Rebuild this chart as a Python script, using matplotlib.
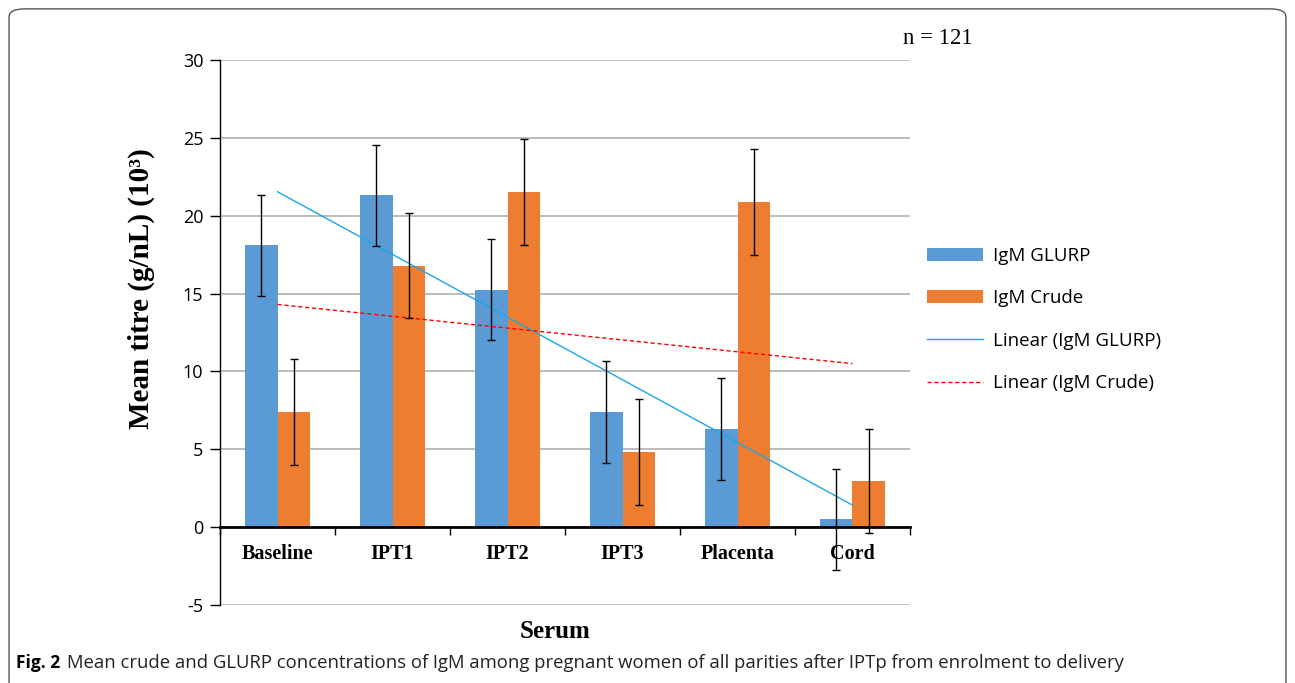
import numpy as np
import matplotlib
matplotlib.use('Agg')
import matplotlib.pyplot as plt
from matplotlib.patches import FancyBboxPatch

plt.rcParams['axes.unicode_minus'] = False

# 数据
categories = ['Baseline', 'IPT1', 'IPT2', 'IPT3', 'Placenta', 'Cord']
glurp = [18.1, 21.3, 15.25, 7.4, 6.3, 0.5]
crude = [7.4, 16.8, 21.5, 4.85, 20.9, 2.95]
glurp_err = [3.25, 3.25, 3.25, 3.25, 3.25, 3.25]
crude_err = [3.4, 3.4, 3.4, 3.4, 3.4, 3.35]

x = np.arange(len(categories))
w = 0.285

fig = plt.figure(figsize=(12.95, 6.83), dpi=100)
ax = fig.add_axes([0.1699, 0.1142, 0.7027 - 0.1699, 0.9122 - 0.1142])

# 外框
border = FancyBboxPatch((0.007, -0.05), 0.986, 1.037, boxstyle='round,pad=0,rounding_size=0.012',
                        transform=fig.transFigure, fill=False, edgecolor='#555555', linewidth=1.0)
fig.patches.append(border)

b1 = ax.bar(x - w / 2, glurp, w, color='#5B9BD5', label='IgM GLURP', zorder=2)
b2 = ax.bar(x + w / 2, crude, w, color='#ED7D31', label='IgM Crude', zorder=2)
ax.errorbar(x - w / 2, glurp, yerr=glurp_err, fmt='none', ecolor='black', elinewidth=1.0, capsize=2.7, capthick=1.0, zorder=4)
ax.errorbar(x + w / 2, crude, yerr=crude_err, fmt='none', ecolor='black', elinewidth=1.0, capsize=2.7, capthick=1.0, zorder=4)

# 线性趋势线
pg = np.polyfit(x + 1, glurp, 1)
pc = np.polyfit(x + 1, crude, 1)
l1, = ax.plot(x, np.polyval(pg, x + 1), color='#1AA7E8', linewidth=1.0, label='Linear (IgM GLURP)', zorder=3)
l2, = ax.plot(x, np.polyval(pc, x + 1), color='red', linewidth=1.0, linestyle=(0, (3, 2)), label='Linear (IgM Crude)', zorder=3)

ax.set_xlim(-0.5, 5.5)
ax.set_ylim(-5, 30)
ax.set_yticks(np.arange(-5, 31, 5))
ax.yaxis.grid(True, color='#B0B0B0', linewidth=1.2, zorder=0)
ax.set_axisbelow(True)
ax.tick_params(axis='y', labelsize=13, length=7, width=1, colors='black', pad=5)
for t in ax.get_yticklabels():
    t.set_fontfamily('Open Sans')

ax.spines['top'].set_visible(False)
ax.spines['right'].set_visible(False)
ax.spines['bottom'].set_position(('data', 0))
ax.spines['bottom'].set_linewidth(2)
ax.spines['bottom'].set_zorder(5)
ax.spines['left'].set_linewidth(1)

ax.set_xticks(np.arange(-0.5, 6, 1))
ax.set_xticklabels([])
ax.set_xticks(x, minor=True)
ax.set_xticklabels(categories, minor=True, fontfamily='Liberation Serif', fontweight='bold', fontsize=14.5)
ax.tick_params(axis='x', which='major', length=6, width=1)
ax.tick_params(axis='x', which='minor', length=0, pad=12)

ax.set_ylabel('Mean titre (g/nL) (10³)', fontfamily='Liberation Serif', fontweight='bold', fontsize=21)
ax.yaxis.set_label_coords(-0.094, 0.58)
fig.text(0.4286, 0.0747, 'Serum', fontfamily='Liberation Serif', fontweight='bold', fontsize=18, ha='center', va='center')
fig.text(0.697, 0.944, 'n = 121', fontfamily='Liberation Serif', fontsize=16.5, ha='left', va='center')

fig.legend(handles=[b1, b2, l1, l2], loc='center left', bbox_to_anchor=(0.7025, 0.532), frameon=False,
           handlelength=3.0, handletextpad=0.55, labelspacing=1.3,
           prop={'family': 'Open Sans', 'size': 13.5})

fig.text(0.012, 0.029, 'Fig. 2', fontfamily='Open Sans', fontweight='bold', fontsize=12.5, ha='left', va='center')
fig.text(0.0517, 0.029, 'Mean crude and GLURP concentrations of IgM among pregnant women of all parities after IPTp from enrolment to delivery',
         fontfamily='Open Sans', fontsize=13.3, ha='left', va='center', color='#222222')

fig.savefig('out.png', dpi=100)
